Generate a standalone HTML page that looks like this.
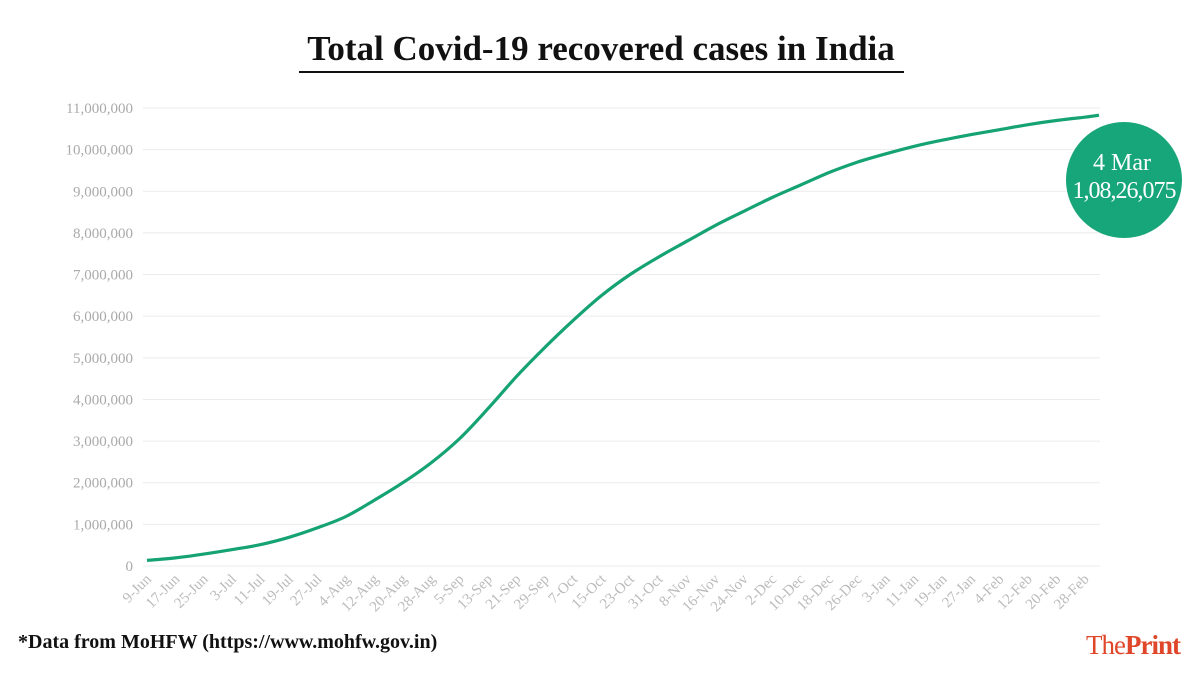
<!DOCTYPE html>
<html><head><meta charset="utf-8"><style>
body{margin:0;background:#fff;width:1200px;height:675px;overflow:hidden;font-family:"Liberation Serif",serif}
</style></head><body>
<svg width="1200" height="675" id="svg">
<text x="601" y="60" text-anchor="middle" font-size="35" font-weight="bold" fill="#111">Total Covid-19 recovered cases in India</text>
<line x1="299" y1="72" x2="904" y2="72" stroke="#111" stroke-width="2"/>
<g id="grid"></g><g id="xl"></g>
<path id="line" fill="none" stroke="#16a373" stroke-width="3.2" stroke-linejoin="round"/>
<circle cx="1124" cy="180" r="58" fill="#17a679"/>
<text x="1122" y="170" text-anchor="middle" font-size="24" fill="#fff">4 Mar</text>
<text x="1124" y="198" text-anchor="middle" font-size="24" fill="#fff" letter-spacing="-1">1,08,26,075</text>
<text x="18" y="648" font-size="20" font-weight="bold" fill="#111">*Data from MoHFW (https://www.mohfw.gov.in)</text>
<text x="1180" y="654" text-anchor="end" font-size="27" font-weight="bold" fill="#e0462a" letter-spacing="-1"><tspan font-weight="normal">The</tspan>Print</text>
</svg>
<script>
const yTicks=[0,1e6,2e6,3e6,4e6,5e6,6e6,7e6,8e6,9e6,10e6,11e6];
const xLabels=["9-Jun","17-Jun","25-Jun","3-Jul","11-Jul","19-Jul","27-Jul","4-Aug","12-Aug","20-Aug","28-Aug","5-Sep","13-Sep","21-Sep","29-Sep","7-Oct","15-Oct","23-Oct","31-Oct","8-Nov","16-Nov","24-Nov","2-Dec","10-Dec","18-Dec","26-Dec","3-Jan","11-Jan","19-Jan","27-Jan","4-Feb","12-Feb","20-Feb","28-Feb"];
const dayOffsets=[0,8,16,24,32,40,48,56,64,72,80,88,96,104,112,120,128,136,144,152,160,168,176,184,192,200,208,216,224,232,240,248,256,264,268];
const recovered=[135000,194000,285000,394000,515000,690000,917000,1190000,1580000,2000000,2480000,3060000,3780000,4550000,5250000,5900000,6500000,7000000,7420000,7800000,8180000,8520000,8850000,9150000,9450000,9700000,9900000,10080000,10230000,10360000,10480000,10600000,10700000,10780000,10826075];
const NS="http://www.w3.org/2000/svg";
const X=d=>147+d*(1099-147)/268, Y=v=>566-v*(566-108)/11e6;
const g=document.getElementById('grid'),xl=document.getElementById('xl');
yTicks.forEach(t=>{
 const l=document.createElementNS(NS,'line');
 l.setAttribute('x1',143);l.setAttribute('x2',1100);l.setAttribute('y1',Y(t));l.setAttribute('y2',Y(t));
 l.setAttribute('stroke','#ebebeb');l.setAttribute('stroke-width',1);
 
 
 g.appendChild(l);
 const tx=document.createElementNS(NS,'text');
 tx.setAttribute('x',133);tx.setAttribute('y',Y(t)+5);tx.setAttribute('text-anchor','end');
 tx.setAttribute('font-size','15');tx.setAttribute('fill','#aaa');
 tx.textContent=t.toLocaleString('en-US');
 
 
 g.appendChild(tx);
});
xLabels.forEach((s,i)=>{
 const x=X(dayOffsets[i]);
 const tx=document.createElementNS(NS,'text');
 tx.setAttribute('transform',`translate(${x+5},${580}) rotate(-45)`);
 tx.setAttribute('text-anchor','end');tx.setAttribute('font-size','15');tx.setAttribute('fill','#bbb');
 tx.textContent=s;
 
 
 xl.appendChild(tx);
});
const pts=recovered.map((v,i)=>[X(dayOffsets[i]),Y(v)]);
let d='M'+pts[0][0]+','+pts[0][1];
for(let i=0;i<pts.length-1;i++){
 const p0=pts[Math.max(0,i-1)],p1=pts[i],p2=pts[i+1],p3=pts[Math.min(pts.length-1,i+2)];
 const c1=[p1[0]+(p2[0]-p0[0])/6,p1[1]+(p2[1]-p0[1])/6];
 const c2=[p2[0]-(p3[0]-p1[0])/6,p2[1]-(p3[1]-p1[1])/6];
 d+=`C${c1[0].toFixed(1)},${c1[1].toFixed(1)} ${c2[0].toFixed(1)},${c2[1].toFixed(1)} ${p2[0].toFixed(1)},${p2[1].toFixed(1)}`;
}
document.getElementById('line').setAttribute('d',d);
</script>
</body></html>
